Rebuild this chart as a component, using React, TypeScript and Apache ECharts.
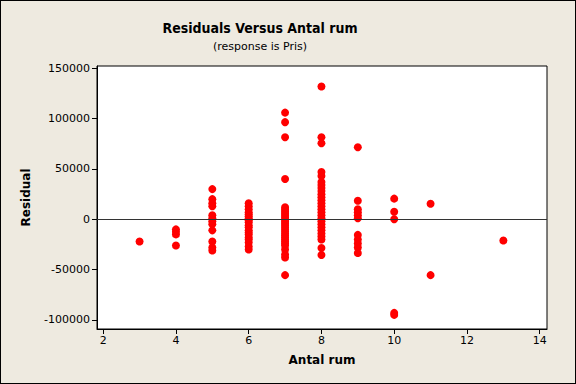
import React, { useEffect, useRef } from "react";
import * as echarts from "echarts";

const titleText = "Residuals Versus Antal rum";
const subtitleText = "(response is Pris)";
const xName = "Antal rum";
const yName = "Residual";
const xTicks = [2, 4, 6, 8, 10, 12, 14];
const yTicks = [-100000, -50000, 0, 50000, 100000, 150000];

const rooms3 = [-22000];
const rooms4 = [-10000, -12500, -15000, -26000];
const rooms5 = [30000, 20000, 16000, 13000, 4000, 1000, -2000, -5000, -11000, -22000, -28000, -31000];
const rooms6 = [16000, 13000, 10000, 7000, 5000, 3000, 1000, -1000, -3000, -6000, -8000, -11000, -13000, -15000, -18000, -20000, -23000, -27000, -30000];
const rooms7 = [106000, 96500, 81500, 40000, 12000, 10000, 8000, 6000, 4000, 2000, 0, -2000, -4000, -6000, -8000, -10000, -12000, -14000, -16000, -18000, -20000, -22000, -24000, -26000, -30000, -35000, -38000, -55500];
const rooms8 = [132000, 81500, 75500, 47000, 43000, 37000, 34000, 31000, 28000, 25000, 22000, 19000, 16000, 13000, 10000, 7000, 4000, 1000, -2000, -5000, -8000, -11000, -14000, -17000, -20000, -28500, -35500];
const rooms9 = [71500, 18500, 10000, 7000, 4000, 1000, -15500, -20000, -24000, -28000, -33500];
const rooms10 = [20500, 7500, 0, -93000, -95000];
const rooms11 = [15500, -55500];
const rooms13 = [-21000];

const groups: [number, number[]][] = [
  [3, rooms3], [4, rooms4], [5, rooms5], [6, rooms6], [7, rooms7],
  [8, rooms8], [9, rooms9], [10, rooms10], [11, rooms11], [13, rooms13],
];

const FONT = "DejaVu Sans";

export default function App() {
  const ref = useRef<HTMLDivElement>(null);
  useEffect(() => {
    if (!ref.current) return;
    const chart = echarts.init(ref.current, null, { renderer: "svg" });
    const data: number[][] = [];
    groups.forEach(([x, ys]) => ys.forEach((y) => data.push([x, y])));
    chart.setOption({
      animation: false,
      backgroundColor: "#EEEAE0",
      textStyle: { fontFamily: FONT },
      graphic: [
        { type: "text", x: 259, y: 27, style: { text: titleText, font: `bold 14px "DejaVu Sans Condensed", ${FONT}`, fill: "#000", align: "center", verticalAlign: "middle" } },
        { type: "text", x: 259, y: 45, style: { text: subtitleText, font: `11px ${FONT}`, fill: "#000", align: "center", verticalAlign: "middle" } },
      ],
      grid: {
        left: 96, right: 28, top: 65, bottom: 54,
        show: true, backgroundColor: "#fff", borderColor: "#000", borderWidth: 1,
      },
      xAxis: {
        type: "value", min: 1.83, max: 14.2,
        name: xName, nameLocation: "middle", nameGap: 25,
        nameTextStyle: { fontFamily: FONT, fontWeight: "bold", fontSize: 12, color: "#000" },
        axisLine: { show: true, onZero: false, lineStyle: { color: "#000" } },
        axisTick: { show: true, length: 5, lineStyle: { color: "#000" }, customValues: xTicks },
        axisLabel: { color: "#000", fontSize: 11, fontFamily: FONT, customValues: xTicks, margin: 6, formatter: (v: number) => String(v) },
        splitLine: { show: false },
      },
      yAxis: {
        type: "value", min: -109000, max: 152300,
        name: yName, nameLocation: "middle", nameGap: 65,
        nameTextStyle: { fontFamily: FONT, fontWeight: "bold", fontSize: 12, color: "#000" },
        axisLine: { show: true, onZero: false, lineStyle: { color: "#000" } },
        axisTick: { show: true, length: 5, lineStyle: { color: "#000" }, customValues: yTicks },
        axisLabel: { color: "#000", fontSize: 11, fontFamily: FONT, customValues: yTicks, margin: 7, formatter: (v: number) => String(v) },
        splitLine: { show: false },
      },
      series: [
        {
          type: "scatter",
          data,
          symbol: "circle",
          symbolSize: 8,
          itemStyle: { color: "#FF0000", opacity: 1 },
          markLine: {
            silent: true,
            symbol: "none",
            label: { show: false },
            lineStyle: { color: "#333", width: 1, type: "solid" },
            data: [{ yAxis: 0 }],
          },
          z: 3,
        },
      ],
    });
    return () => chart.dispose();
  }, []);
  return (
    <div style={{ position: "fixed", left: 0, top: 0, width: 576, height: 384, boxSizing: "border-box", border: "1px solid #000", background: "#EEEAE0" }}>
      <div ref={ref} style={{ width: 574, height: 382 }} />
    </div>
  );
}
